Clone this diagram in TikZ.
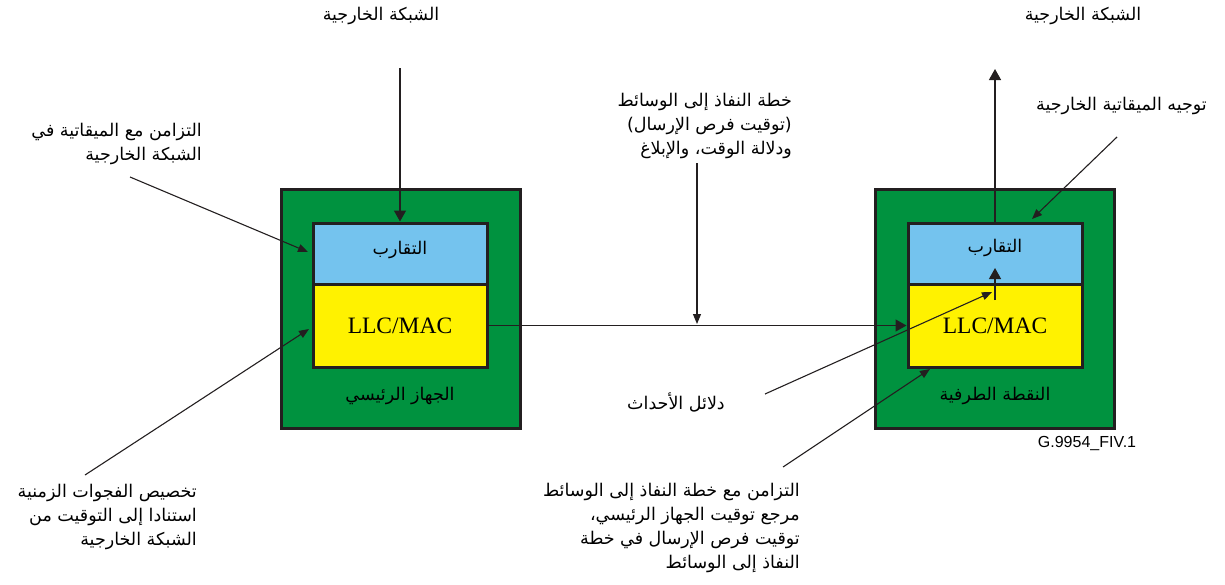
\documentclass[tikz,border=0pt]{standalone}
\usepackage{fontspec}
\setmainfont{Liberation Serif}
\newfontfamily\arabicfont[Script=Arabic]{DejaVu Sans}
\newfontfamily\figsans{Liberation Sans}
\TeXXeTstate=1
\usetikzlibrary{arrows.meta}
\newcommand\artxt[1]{\beginR #1\endR}

\definecolor{boxgreen}{RGB}{0,146,63}
\definecolor{convblue}{RGB}{116,195,238}
\definecolor{macyellow}{RGB}{255,242,0}
\definecolor{edge}{RGB}{35,31,32}

\tikzset{
  outerbox/.style={draw=edge, line width=3pt, fill=boxgreen, minimum width=239pt, minimum height=239pt, inner sep=0pt},
  convbox/.style={draw=edge, line width=3pt, fill=convblue, minimum width=174pt, minimum height=61pt, inner sep=0pt},
  macbox/.style={draw=edge, line width=3pt, fill=macyellow, minimum width=174pt, minimum height=83pt, inner sep=0pt},
  artext/.style={font=\arabicfont\fontsize{17.5}{24}\selectfont, inner sep=0pt, align=right},
  conn/.style={draw=edge, line width=1.4pt, -{Triangle[length=11pt,width=12pt]}},
  thin/.style={draw=edge, line width=1.1pt, -{Triangle[length=10pt,width=8pt]}},
}

\begin{document}
\begin{tikzpicture}[x=1pt,y=-1pt]
  \useasboundingbox (0,0) rectangle (1225,584);

  % host (left) and end point (right) blocks
  \node[outerbox] (host) at (400.5,308.5) {};
  \node[convbox] (hostconv) at (400,253.5) {};
  \node[artext] (hostconvlbl) at (400,250) {\artxt{التقارب}};
  \node[macbox] (hostmac) at (400,325.5) {\fontsize{23.5}{26}\selectfont LLC/MAC};
  \node[artext] (hostname) at (400,396) {\artxt{الجهاز الرئيسي}};

  \node[outerbox] (ep) at (995,308.5) {};
  \node[convbox] (epconv) at (995,253.5) {};
  \node[artext] (epconvlbl) at (995,248) {\artxt{التقارب}};
  \node[macbox] (epmac) at (995,325.5) {\fontsize{23.5}{26}\selectfont LLC/MAC};
  \node[artext] (epname) at (995,396) {\artxt{النقطة الطرفية}};

  % labels
  \node[artext] (netleft) at (381,16) {\artxt{الشبكة الخارجية}};
  \node[artext] (netright) at (1083,16) {\artxt{الشبكة الخارجية}};
  \node[artext, anchor=east] (syncext) at (202,144) {\artxt{التزامن مع الميقاتية في}\\\artxt{الشبكة الخارجية}};
  \node[artext, anchor=east] (map) at (792,126) {\artxt{خطة النفاذ إلى الوسائط}\\\artxt{(توقيت فرص الإرسال)}\\\artxt{ودلالة الوقت، والإبلاغ}};
  \node[artext, anchor=east] (clkfwd) at (1207,106) {\artxt{توجيه الميقاتية الخارجية}};
  \node[artext] (events) at (676,402) {\artxt{دلائل الأحداث}};
  \node[artext, anchor=east] (slots) at (197,517) {\artxt{تخصيص الفجوات الزمنية}\\\artxt{استنادا إلى التوقيت من}\\\artxt{الشبكة الخارجية}};
  \node[artext, anchor=east] (mapsync) at (800,528) {\artxt{التزامن مع خطة النفاذ إلى الوسائط}\\\artxt{مرجع توقيت الجهاز الرئيسي،}\\\artxt{توقيت فرص الإرسال في خطة}\\\artxt{النفاذ إلى الوسائط}};
  \node[font=\figsans\fontsize{16}{18}\selectfont, inner sep=0pt] (figid) at (1087,443) {G.9954\_FIV.1};

  % connector end points
  \coordinate (netLin) at (400,68);
  \coordinate (netRout) at (995,69);
  \coordinate (syncA) at (130,177);
  \coordinate (syncB) at (308,252);
  \coordinate (slotA) at (85,475);
  \coordinate (slotB) at (309,329);
  \coordinate (mapA) at (697,163);
  \coordinate (mapB) at (697,324);
  \coordinate (fwdA) at (1117,137);
  \coordinate (fwdB) at (1032,219);
  \coordinate (evA) at (765,394);
  \coordinate (evB) at (992,292);
  \coordinate (upA) at (995,300);
  \coordinate (upB) at (995,268);
  \coordinate (msA) at (783,467);
  \coordinate (msB) at (930,369);

  % connectors
  \draw[conn] (netLin) -- (hostconv.north);
  \draw[conn] (epconv.north) -- (netRout);
  \draw[conn] (hostmac.east) -- (epmac.west);
  \draw[thin] (mapA) -- (mapB);
  \draw[thin] (syncA) -- (syncB);
  \draw[thin] (slotA) -- (slotB);
  \draw[thin] (fwdA) -- (fwdB);
  \draw[thin] (evA) -- (evB);
  \draw[conn] (upA) -- (upB);
  \draw[thin] (msA) -- (msB);
\end{tikzpicture}
\end{document}
